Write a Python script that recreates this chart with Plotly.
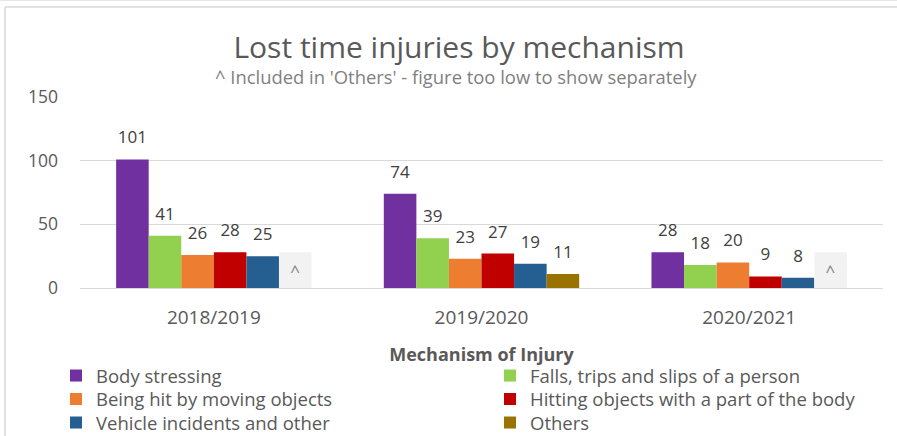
import plotly.graph_objects as go

years = ["2018/2019", "2019/2020", "2020/2021"]
series_names = ["Body stressing", "Falls, trips and slips of a person", "Being hit by moving objects",
                "Hitting objects with a part of the body", "Vehicle incidents and other", "Others"]
body_stressing = [101, 74, 28]
falls = [41, 39, 18]
being_hit = [26, 23, 20]
hitting_objects = [28, 27, 9]
vehicle = [25, 19, 8]
others = [None, 11, None]
caret_box = [28, None, 28]  # "^" placeholder box where Others is too low to show
colors = ["#7030A0", "#92D050", "#ED7D31", "#C00000", "#255E91", "#997300"]

series_values = [body_stressing, falls, being_hit, hitting_objects, vehicle, others]

FONT = "Open Sans"
# plot area: x 80..883, y 97..288 (pixels)
PL, PR, PT, PB = 80, 883, 97, 288
W, H = 897, 436
PW, PH = PR - PL, PB - PT


def px_x(x):
    return (x - PL) / PW


def px_y(y):
    return (PB - y) / PH


# legend slots: (left x of legend box, row centre y)
legend_slots = [(56, 376), (490, 376), (56, 399.5), (490, 399.5), (56, 423), (490, 423)]


def label(v):
    # number at 17px, followed by a small blank line that lifts it above the bar top
    return f"<span style='font-size:17px'>{v}</span><br>&nbsp;"


fig = go.Figure()
for i, (name, vals, col) in enumerate(zip(series_names, series_values, colors)):
    fig.add_trace(go.Bar(
        x=years, y=vals, name=name, marker=dict(color=col, line=dict(width=0)),
        offsetgroup=str(i), text=[("" if v is None else label(v)) for v in vals],
        textposition="outside", cliponaxis=False, textangle=0,
        textfont=dict(size=8.5, color="#404040", family=FONT),
        legend="legend" if i == 0 else f"legend{i + 1}",
    ))
fig.add_trace(go.Bar(
    x=years, y=caret_box, name="^", showlegend=False, offsetgroup="5",
    marker=dict(color="#F2F2F2", line=dict(width=0)),
    text=["^" if v is not None else "" for v in caret_box], textposition="inside",
    insidetextanchor="middle", textangle=0, constraintext="none",
    textfont=dict(size=17, color="#7F7F7F", family=FONT),
    hoverinfo="skip",
))

legend_layouts = {}
for i, (lx, ly) in enumerate(legend_slots):
    key = "legend" if i == 0 else f"legend{i + 1}"
    legend_layouts[key] = dict(
        orientation="v", x=px_x(lx), xanchor="left", y=px_y(ly), yanchor="middle",
        font=dict(size=18.5, color="#595959", family=FONT), bgcolor="rgba(0,0,0,0)",
        itemclick=False, itemdoubleclick=False,
    )

fig.update_layout(
    width=W, height=H,
    paper_bgcolor="white", plot_bgcolor="white",
    margin=dict(l=PL, r=W - PR, t=PT, b=H - PB, autoexpand=False),
    barmode="group", bargap=0.27, bargroupgap=0,
    font=dict(family=FONT, color="#595959"),
    title=dict(text="Lost time injuries by mechanism", x=(237 + 681) / 2 / W, xanchor="center",
               y=1 - 47 / H, yanchor="middle", yref="container",
               font=dict(size=30, color="#595959", family=FONT)),
    annotations=[dict(text="^ Included in 'Others' - figure too low to show separately",
                      xref="paper", yref="paper", x=px_x((214 + 698) / 2), y=px_y(77),
                      xanchor="center", yanchor="middle", showarrow=False,
                      font=dict(size=18.4, color="#7F7F7F", family=FONT))],
    xaxis=dict(showgrid=False, showline=True, linecolor="#D9D9D9", linewidth=1,
               tickfont=dict(size=19, color="#595959", family=FONT), ticks="",
               ticklabelstandoff=12,
               title=dict(text="<b>Mechanism of Injury</b>", standoff=19,
                          font=dict(size=18, color="#595959", family=FONT))),
    yaxis=dict(range=[0, 150], dtick=50, showgrid=True, gridcolor="#D9D9D9", gridwidth=1,
               zeroline=False, showline=False, ticks="", ticklabelstandoff=21,
               tickfont=dict(size=17.5, color="#595959", family=FONT)),
    shapes=[
        dict(type="line", xref="paper", yref="paper", x0=px_x(5), x1=px_x(900), y0=px_y(7), y1=px_y(7),
             line=dict(color="#D9D9D9", width=1.5)),
        dict(type="line", xref="paper", yref="paper", x0=px_x(5), x1=px_x(5), y0=px_y(440), y1=px_y(7),
             line=dict(color="#D9D9D9", width=1.5)),
        dict(type="line", xref="paper", yref="paper", x0=px_x(0), x1=px_x(900), y0=px_y(0.5), y1=px_y(0.5),
             line=dict(color="#E6E6E6", width=1)),
    ],
    **legend_layouts,
)
fig.write_html("out.html", post_script="document.body.style.margin='0';",
               config={"displayModeBar": False})
